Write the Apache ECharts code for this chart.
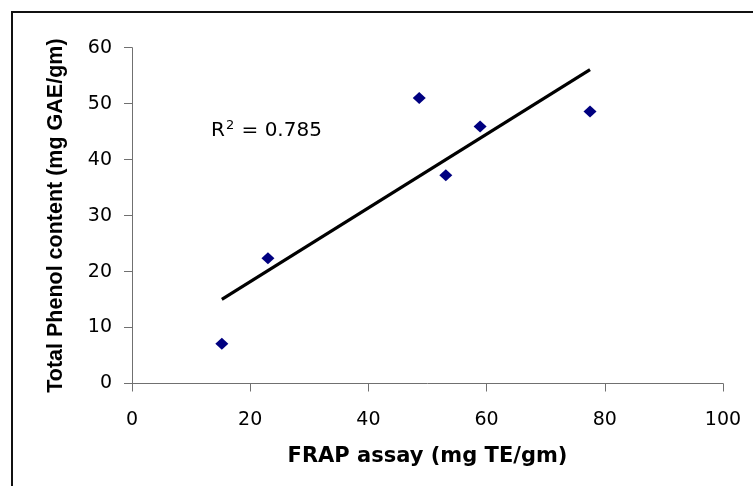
<!DOCTYPE html>
<html>
<head>
<meta charset="utf-8">
<script src="https://cdn.jsdelivr.net/npm/echarts@6/dist/echarts.min.js"></script>
<style>
html,body{margin:0;padding:0;background:#fff;}
#c{width:753px;height:486px;}
</style>
</head>
<body>
<div id="c"></div>
<script>
// Data
var frapValues = [15.2, 23.0, 48.6, 53.1, 58.9, 77.5];
var phenolValues = [7.1, 22.4, 51.0, 37.2, 45.9, 48.6];
var xTicks = [0, 20, 40, 60, 80, 100];
var yTicks = [0, 10, 20, 30, 40, 50, 60];
var r2Text = '0.785';
var xTitle = 'FRAP assay (mg TE/gm)';
var yTitle = 'Total Phenol content (mg GAE/gm)';

// linear trendline (least squares) from the data
var n = frapValues.length, sx = 0, sy = 0, sxx = 0, sxy = 0;
for (var i = 0; i < n; i++) {
  sx += frapValues[i]; sy += phenolValues[i];
  sxx += frapValues[i] * frapValues[i]; sxy += frapValues[i] * phenolValues[i];
}
var slope = (n * sxy - sx * sy) / (n * sxx - sx * sx);
var intercept = (sy - slope * sx) / n;
var xMinD = Math.min.apply(null, frapValues), xMaxD = Math.max.apply(null, frapValues);
var trend = [[xMinD, intercept + slope * xMinD], [xMaxD, intercept + slope * xMaxD]];

var pts = frapValues.map(function (v, i) { return [v, phenolValues[i]]; });

var chart = echarts.init(document.getElementById('c'), null, {renderer: 'canvas'});
var axisColor = '#707070';
var tickFont = 'DejaVu Sans';
chart.setOption({
  animation: false,
  backgroundColor: '#ffffff',
  grid: {left: 132, right: 30, top: 47.7, bottom: 102.5, containLabel: false},
  xAxis: {
    type: 'value', min: xTicks[0], max: xTicks[xTicks.length - 1], interval: 20,
    splitLine: {show: false},
    axisLine: {lineStyle: {color: axisColor, width: 1}},
    axisTick: {show: true, inside: false, length: 8, lineStyle: {color: axisColor}},
    axisLabel: {margin: 27, color: '#000', fontFamily: tickFont, fontSize: 19},
    name: xTitle, nameLocation: 'middle', nameGap: 63,
    nameTextStyle: {color: '#000', fontFamily: 'DejaVu Sans', fontWeight: 'bold', fontSize: 21}
  },
  yAxis: {
    type: 'value', min: yTicks[0], max: yTicks[yTicks.length - 1], interval: 10,
    splitLine: {show: false},
    axisLine: {show: true, lineStyle: {color: axisColor, width: 1}},
    axisTick: {show: true, inside: false, length: 8, lineStyle: {color: axisColor}},
    axisLabel: {margin: 20, color: '#000', fontFamily: tickFont, fontSize: 19},
    name: yTitle, nameLocation: 'middle', nameGap: 65,
    nameTextStyle: {color: '#000', fontFamily: 'Liberation Sans', fontWeight: 'bold', fontSize: 21.5}
  },
  series: [
    {
      type: 'line', data: trend, symbol: 'none', silent: true,
      lineStyle: {color: '#000', width: 3.2}, z: 2
    },
    {
      type: 'scatter', data: pts, symbol: 'diamond', symbolSize: [13, 12],
      itemStyle: {color: '#000080', opacity: 1}, z: 3
    }
  ],
  graphic: [
    {
      type: 'rect', silent: true,
      shape: {x: 12, y: 12, width: 800, height: 520},
      style: {fill: 'none', stroke: '#111', lineWidth: 2}
    },
    {
      type: 'text', x: 211, y: 131, silent: true,
      style: {
        text: '{a|R}{s|2}{a| = ' + r2Text + '}',
        verticalAlign: 'middle',
        rich: {
          a: {fontFamily: 'DejaVu Sans', fontSize: 20, color: '#000', lineHeight: 24},
          s: {fontFamily: 'DejaVu Sans', fontSize: 13, color: '#000', lineHeight: 24, verticalAlign: 'top', padding: [0, 1, 0, 1]}
        }
      }
    }
  ]
});
</script>
</body>
</html>
